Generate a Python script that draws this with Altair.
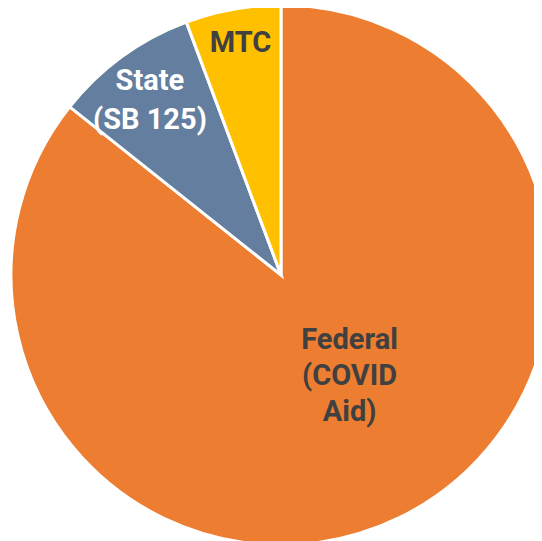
import altair as alt
import pandas as pd

categories = ["Federal", "State", "MTC"]
values = [85.7, 8.6, 5.7]
labels = ["Federal\n(COVID\nAid)", "State\n(SB 125)", "MTC"]
colors = ["#ED7D31", "#637E9E", "#FFC000"]

df = pd.DataFrame({"cat": categories, "val": values, "label": labels,
                   "order": list(range(len(categories)))})

cx, cy, R = 273, 267, 270
FONT = "Roboto"

arc = alt.Chart(df).mark_arc(stroke="white", strokeWidth=3).encode(
    theta=alt.Theta("val:Q", stack=True),
    order=alt.Order("order:Q"),
    x=alt.value(cx), y=alt.value(cy),
    radius=alt.value(R),
    color=alt.Color("cat:N", scale=alt.Scale(domain=categories, range=colors), legend=None),
)

tbase = alt.Chart(df).transform_joinaggregate(
    total="sum(val)"
).transform_window(
    cum="sum(val)", sort=[alt.SortField("order")]
).transform_calculate(
    mid="(datum.cum - datum.val/2) / datum.total * 2 * PI"
)

def lab(cat, r, dx, dy, col, lh):
    return tbase.transform_filter(alt.datum.cat == cat).mark_text(
        font=FONT, fontWeight="bold", fontSize=29, lineHeight=lh,
        lineBreak="\n", align="center", baseline="middle",
        radius=r, dx=dx, dy=dy, color=col,
    ).encode(
        theta=alt.Theta("mid:Q", scale=None),
        x=alt.value(cx), y=alt.value(cy), text="label:N",
    )

chart = alt.layer(
    arc,
    lab("Federal", 121, 16, -44, "#404040", 36),
    lab("State", 223, 0, -14, "white", 39),
    lab("MTC", 233, 1, -3, "#404040", 36),
).properties(
    width=526, height=533, padding=0, autosize="none"
).configure_view(stroke=None)

chart.save("out.html", embed_options={"renderer": "svg", "actions": False})
